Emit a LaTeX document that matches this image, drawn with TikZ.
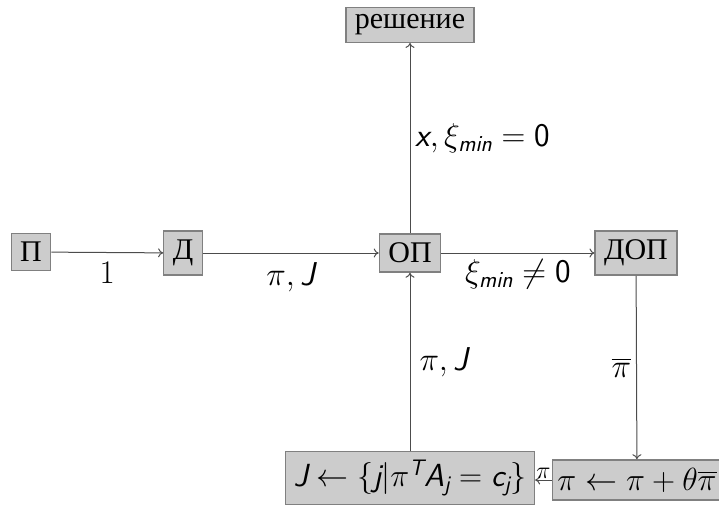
\RequirePackage{fix-cm}
\documentclass[tikz,border=0pt]{standalone}
\usepackage{amsmath}
\usepackage{fontspec}
\newfontfamily\cyr{Liberation Serif}
\usetikzlibrary{arrows.meta}
\definecolor{boxfill}{gray}{0.8}
\definecolor{boxline}{gray}{0.5}
\definecolor{edgecol}{gray}{0.3}
\newcommand\vs[1]{\text{\sffamily\itshape #1}}
\newcommand\ns[1]{\text{\sffamily #1}}
\begin{document}
\begin{tikzpicture}[x=1pt,y=-1pt,
  box/.style={draw=boxline, fill=boxfill, line width=1.3pt, inner sep=9pt, font=\fontsize{32}{38}\selectfont},
  cbox/.style={box, font=\fontsize{30}{34}\selectfont\cyr},
  lbl/.style={font=\fontsize{33}{40}\selectfont, inner sep=5pt},
  conn/.style={draw=edgecol, line width=1pt, -{To[length=5pt,width=9pt]}}]
\useasboundingbox (0,0) rectangle (719,506);
\node[cbox] (P) at (31,252) {П};
\node[cbox] (D) at (183,253) {Д};
\node[cbox] (OP) at (410,253) {ОП};
\node[cbox] (DOP) at (636,253) {ДОП};
\node[cbox, inner ysep=7pt] (R) at (410,25) {решение};
\node[box, inner xsep=8pt, inner ysep=8pt] (BL) at (410,478) {$\vs{J}\leftarrow\{\vs{j}|\pi^{\vs{T}}\vs{A}_{\vs{j}}=\vs{c}_{\vs{j}}\}$};
\node[box, inner xsep=5pt, inner ysep=8pt] (BR) at (637,480) {$\pi\leftarrow\pi+\theta\overline{\pi}$};
\draw[conn] (P) -- node[lbl, below, inner sep=9pt] {$1$} (D);
\draw[conn] (D) -- node[lbl, below, inner sep=9pt] {$\pi,\vs{J}$} (OP);
\draw[conn] (OP) -- node[lbl, below, inner sep=6pt] {$\xi_{\vs{min}}\neq\ns{0}$} (DOP);
\draw[conn] (OP) -- node[lbl, right] {$\vs{x},\xi_{\vs{min}}=\ns{0}$} (R);
\draw[conn] (DOP) -- node[lbl, left] {$\overline{\pi}$} (BR);
\draw[conn] (BR.west) -- node[lbl, above, inner sep=1pt, font=\fontsize{24}{28}\selectfont] {$\pi$} (BL.east |- BR.west);
\draw[conn] (BL) -- node[lbl, right, inner sep=9pt] {$\pi,\vs{J}$} (OP);
\end{tikzpicture}
\end{document}
